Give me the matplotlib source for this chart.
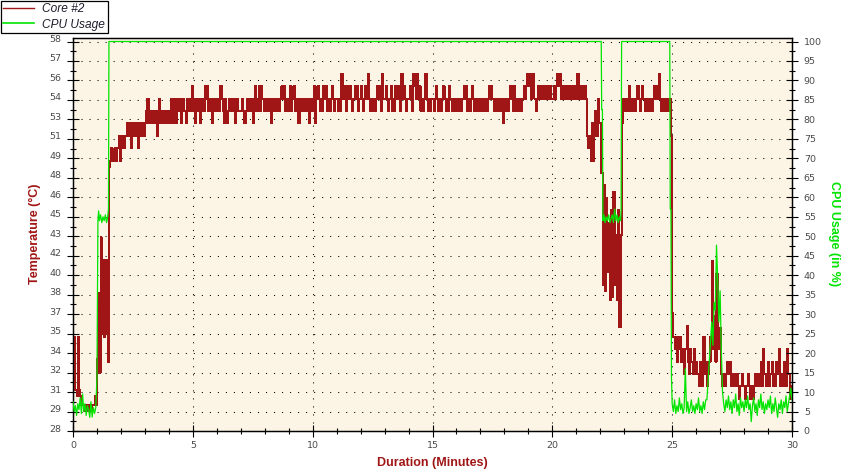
import numpy as np
import matplotlib
matplotlib.use("Agg")
import matplotlib.pyplot as plt
import matplotlib.transforms as mtransforms
from matplotlib.ticker import FixedLocator, MultipleLocator
from matplotlib.font_manager import FontProperties
from matplotlib.lines import Line2D

# ---------------- data ----------------
SAMPLE_STEP = 0.05  # minutes between log samples

# Core #2 temperature (deg C), one row per minute (20 samples), final sample at 30:00
core2_temp = [
    31.5, 35.8, 31.5, 31.0, 35.8, 31.5, 31.0, 30.3, 30.3, 29.8, 30.3, 30.3, 29.8, 30.3, 30.3, 29.8, 30.3, 30.3, 31.0, 30.3,
    34.0, 39.3, 32.9, 43.8, 36.0, 42.0, 35.8, 42.0, 36.0, 33.8, 49.5, 50, 51, 50, 50, 51, 50, 51, 52, 50,
    51, 52, 51, 52, 52, 53, 52, 53, 51, 53, 52, 53, 52, 53, 51, 52, 53, 52, 53, 52,
    53, 54, 55, 53, 54, 53, 54, 53, 54, 53, 52, 54, 55, 53, 54, 53, 54, 54, 53, 54,
    53, 54, 55, 53, 55, 54, 53, 55, 54, 55, 53, 54, 55, 54, 53, 55, 54, 55, 54, 56,
    55, 54, 53, 55, 54, 55, 53, 54, 55, 54, 56, 55, 56, 54, 55, 54, 53, 55, 54, 55,
    54, 55, 54, 56, 55, 54, 53, 55, 53, 54, 55, 54, 55, 54, 55, 53, 54, 55, 54, 54,
    54, 55, 54, 53, 54, 55, 54, 54, 55, 54, 53, 55, 56, 54, 55, 56, 54, 56, 55, 54,
    55, 54, 55, 54, 55, 53, 54, 55, 54, 55, 54, 55, 54, 55, 56, 55, 56, 54, 55, 54,
    55, 56, 54, 55, 56, 54, 55, 54, 53, 55, 54, 55, 54, 55, 54, 55, 54, 53, 55, 54,
    55, 56, 53, 55, 56, 55, 54, 55, 54, 56, 55, 56, 54, 55, 54, 55, 56, 55, 54, 55,
    55, 54, 55, 54, 57, 55, 56, 55, 54, 56, 55, 56, 55, 54, 55, 56, 55, 56, 54, 55,
    56, 55, 54, 55, 56, 55, 57, 55, 54, 55, 54, 55, 54, 55, 56, 55, 56, 54, 57, 55,
    55, 56, 55, 54, 55, 56, 54, 55, 54, 56, 55, 56, 55, 54, 57, 55, 56, 55, 54, 55,
    55, 56, 55, 54, 57, 56, 55, 57, 55, 56, 54, 55, 54, 55, 57, 55, 54, 55, 54, 55,
    55, 54, 55, 56, 55, 54, 55, 54, 55, 56, 55, 54, 55, 54, 56, 55, 54, 55, 54, 55,
    54, 55, 54, 55, 54, 55, 56, 55, 56, 54, 55, 54, 55, 56, 55, 54, 55, 54, 55, 54,
    55, 54, 55, 54, 55, 54, 55, 56, 55, 56, 55, 54, 55, 54, 55, 54, 55, 54, 55, 53,
    55, 54, 55, 54, 55, 56, 55, 54, 56, 55, 54, 55, 54, 55, 54, 55, 56, 55, 56, 57,
    56, 57, 55, 56, 57, 55, 54, 55, 56, 55, 56, 55, 56, 55, 56, 55, 56, 55, 56, 55,
    55, 56, 55, 56, 57, 56, 57, 55, 56, 55, 56, 55, 56, 55, 56, 55, 56, 55, 56, 55,
    55, 57, 55, 56, 55, 56, 55, 56, 55, 52, 51, 52, 50, 53, 50, 52, 54, 52, 55, 53,
    53, 49, 40, 48, 39.5, 47, 41, 45, 38.8, 46, 39, 47.5, 40, 44, 38.8, 46, 36.6, 44, 53, 55,
    54, 55, 54, 55, 56, 54, 55, 54, 55, 54, 55, 56, 55, 54, 55, 56, 55, 54, 55, 54,
    55, 54, 55, 54, 55, 56, 55, 56, 55, 57, 55, 54, 55, 54, 55, 55, 54, 55, 55, 52,
    37.7, 35.8, 34.8, 35.8, 33.8, 34.8, 35.8, 33.8, 34.8, 33.8, 32.8, 34.8, 36.7, 33.8, 32.8, 34.8, 33.8, 32.8, 34.8, 32.8,
    33.8, 32.8, 31.8, 33.8, 32.8, 31.8, 35.8, 32.8, 33.8, 31.8, 32.8, 33.8, 35.8, 41.9, 34.8, 37.5, 33.8, 40.9, 36.5, 34.8,
    36.5, 32.8, 31.8, 32.8, 31.8, 32.8, 33.8, 32.8, 33.8, 31.8, 32.8, 31.8, 32.8, 31.8, 32.8, 31.8, 30.8, 31.8, 32.8, 31.8,
    31.8, 30.8, 31.8, 32.8, 31.8, 30.8, 31.8, 30.8, 31.8, 32.8, 31.8, 32.8, 31.8, 32.8, 33.8, 31.8, 34.8, 32.8, 31.8, 32.8,
    33.8, 31.8, 32.8, 33.8, 31.8, 32.8, 31.8, 33.8, 32.8, 34.8, 31.8, 32.8, 31.8, 33.8, 32.8, 31.8, 34.8, 32.8, 30.8, 31.8,
    31.8,
]

# CPU usage (%) -- idle start, samples 0.00 .. 0.95 min
cpu_idle_start = [7.5, 5.0, 6.5, 4.0, 7.0, 5.5, 8.5, 4.5, 9.5, 5.0,
                  7.0, 4.0, 6.5, 5.5, 3.5, 7.5, 3.6, 6.0, 4.5, 6.0]
# CPU usage -- load phases (irregular samples)
cpu_load_minutes = [0.97, 1.00, 1.02, 1.04, 1.07, 1.10, 1.15, 1.20, 1.25, 1.30, 1.35, 1.40, 1.45, 1.48, 1.50,
                    22.04, 22.06, 22.09, 22.11, 22.15, 22.20, 22.25, 22.30, 22.35, 22.40, 22.45, 22.50,
                    22.55, 22.60, 22.65, 22.70, 22.75, 22.80, 22.85, 22.87, 22.89,
                    24.90, 24.92, 24.95, 24.97]
cpu_load_percent = [9.0, 13.6, 35.0, 54.0, 56.5, 54.0, 55.5, 53.5, 55.0, 54.0, 55.5, 53.5, 55.0, 57.0, 100,
                    100, 82.5, 82.5, 54.0, 55.5, 53.5, 55.0, 54.0, 55.5, 53.5, 54.5, 55.5,
                    53.5, 57.0, 54.0, 55.5, 53.5, 55.0, 54.0, 57.0, 100,
                    100, 57.0, 57.0, 14.0]
# CPU usage -- idle end, samples 25.00 .. 30.00 min
cpu_idle_end = [
    7, 5, 8, 4.5, 6.5, 5, 8.5, 5.5, 7, 4.5, 6, 16, 5, 7.5, 4.5, 6, 8, 5, 6.5, 4.5,
    7, 5.5, 8.5, 5, 6.5, 4.5, 7.5, 5.5, 8, 8, 13, 18, 23, 28, 22, 33, 31, 47.7, 39, 28,
    36, 21, 10, 7, 5, 8, 6, 9, 5.5, 7.5, 4.5, 8, 6, 9.5, 5, 7, 4, 8.5, 6, 7.5,
    5, 8, 6, 9, 5.5, 7, 2.4, 6.5, 8.5, 5, 7, 4, 8, 6, 9.5, 5.5, 7.5, 4.5, 7, 5.5,
    8, 6, 9, 4.5, 7, 5, 8.5, 6, 3.5, 7, 5.5, 8, 4.5, 7.5, 6, 9, 5, 7, 9, 11,
    8,
]
CPU_IDLE_END_START = 25.0

temp_tick_labels = ["28", "29", "31", "32", "34", "35", "37", "38", "40", "42", "43",
                    "45", "46", "48", "49", "51", "53", "54", "56", "57", "58"]
TEMP_AXIS_MIN = 28.2
TEMP_AXIS_STEP = 1.57       # deg C per 5 % of the CPU axis

# ---------------- styling ----------------
RED = "#a01616"
GREEN = "#00e400"
BG = "#fcf5e5"
TICK_GREY = "#4a4a4a"
CPU_TOP = 100.9

W, H = 843, 471
fig = plt.figure(figsize=(W / 100, H / 100), dpi=100)
fig.patch.set_facecolor("white")
L, R, T, B = 73, 792, 38, 431
ax = fig.add_axes([L / W, (H - B) / H, (R - L) / W, (B - T) / H])
ax.set_facecolor(BG)

temp_minutes = np.arange(len(core2_temp)) * SAMPLE_STEP
ax.step(temp_minutes, core2_temp, where="post", color=RED, lw=0.75, zorder=3, antialiased=False)

ax.set_xlim(0, 30)
ax.set_ylim(TEMP_AXIS_MIN, TEMP_AXIS_MIN + TEMP_AXIS_STEP * 20 * CPU_TOP / 100)

temp_ticks = [TEMP_AXIS_MIN + i * TEMP_AXIS_STEP for i in range(len(temp_tick_labels))]
ax.yaxis.set_major_locator(FixedLocator(temp_ticks))
ax.set_yticklabels(temp_tick_labels)
ax.yaxis.set_minor_locator(FixedLocator([v + TEMP_AXIS_STEP / 2 for v in temp_ticks[:-1]]))
ax.xaxis.set_major_locator(MultipleLocator(5))
ax.xaxis.set_minor_locator(MultipleLocator(1))

dot = (0, (1, 6.7))
ax.grid(True, which="major", color="black", linestyle=dot, lw=0.75)
ax.set_axisbelow(True)

ax2 = ax.twinx()
cpu_minutes = np.concatenate([np.arange(len(cpu_idle_start)) * SAMPLE_STEP,
                              cpu_load_minutes,
                              CPU_IDLE_END_START + np.arange(len(cpu_idle_end)) * SAMPLE_STEP])
cpu_values = np.concatenate([cpu_idle_start, cpu_load_percent, cpu_idle_end])
ax2.plot(cpu_minutes, cpu_values, color=GREEN, lw=0.9, zorder=4)
ax2.set_ylim(0, CPU_TOP)
ax2.yaxis.set_major_locator(MultipleLocator(5))
ax2.yaxis.set_minor_locator(MultipleLocator(2.5))

tick_font = dict(labelsize=6.8, labelcolor=TICK_GREY)
for a in (ax, ax2):
    a.tick_params(which="major", direction="inout", length=9, width=0.8, color="black", **tick_font)
    a.tick_params(which="minor", direction="inout", length=5, width=0.8, color="black")
    for s in a.spines.values():
        s.set_color("black")
        s.set_linewidth(0.9)
ax.tick_params(axis="x", pad=3)
ax.tick_params(axis="y", pad=4)
ax2.tick_params(axis="y", pad=4)
for lab in ax.get_xticklabels() + ax.get_yticklabels() + ax2.get_yticklabels():
    lab.set_fontfamily("DejaVu Sans")
# the temperature labels sit a few pixels above their ticks in the original
lift = mtransforms.ScaledTranslation(0, 3 / 100, fig.dpi_scale_trans)
for lab in ax.get_yticklabels():
    lab.set_transform(lab.get_transform() + lift)

label_font = dict(family="Liberation Sans", weight="bold", size=9)
fig.text((L + R) / 2 / W, 1 - 463 / H, "Duration (Minutes)", color=RED, ha="center", va="center", **label_font)
fig.text(35 / W, 1 - 234 / H, "Temperature (°C)", color=RED, rotation=90, ha="center", va="center", **label_font)
fig.text(834 / W, 1 - 234 / H, "CPU Usage (in %)", color=GREEN, rotation=-90, ha="center", va="center", **label_font)

handles = [Line2D([], [], color=RED, lw=1.0), Line2D([], [], color=GREEN, lw=1.2)]
leg = fig.legend(handles, ["Core #2", "CPU Usage"], loc="upper left", bbox_to_anchor=(0, 1),
                 bbox_transform=fig.transFigure, frameon=True, fancybox=False, framealpha=1,
                 edgecolor="black", borderaxespad=0.05,
                 prop=FontProperties(family="Liberation Sans", style="italic", size=8.6),
                 handlelength=2.6, handletextpad=0.7, borderpad=0.2, labelspacing=0.3)
leg.get_frame().set_linewidth(0.9)
for t in leg.get_texts():
    t.set_color("#1c1c2c")
leg.set_zorder(10)

fig.savefig("out.png", dpi=100, facecolor="white")
